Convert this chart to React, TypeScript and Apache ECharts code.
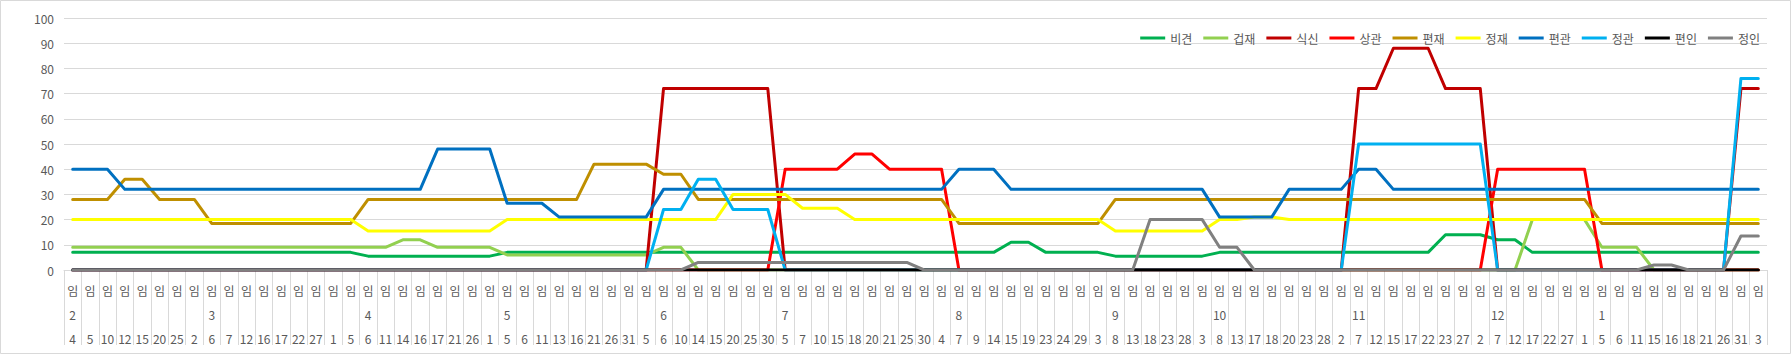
import React, { useEffect, useRef } from 'react';
import * as echarts from 'echarts';

const FONT = '"Noto Sans CJK KR", "Noto Sans", sans-serif';

// x-axis rows
const dayLabels = [
  4, 5, 10, 12, 15, 20, 25, 2, 6, 7,
  12, 16, 17, 22, 27, 1, 5, 6, 11, 14,
  16, 17, 21, 26, 1, 5, 6, 11, 13, 16,
  21, 26, 31, 5, 6, 10, 14, 15, 20, 25,
  30, 5, 7, 10, 15, 18, 20, 21, 25, 30,
  4, 7, 9, 14, 15, 19, 23, 24, 29, 3,
  8, 13, 18, 23, 28, 3, 8, 13, 17, 18,
  20, 23, 28, 2, 7, 12, 15, 17, 22, 23,
  27, 2, 7, 12, 17, 22, 27, 1, 5, 6,
  11, 15, 16, 18, 21, 26, 31, 3,
];
const monthIndex = [0, 8, 17, 25, 34, 41, 51, 60, 66, 74, 82, 88];
const monthNames = ['2', '3', '4', '5', '6', '7', '8', '9', '10', '11', '12', '1'];
const topLabel = '임';

const seriesNames = ['비견', '겁재', '식신', '상관', '편재', '정재', '편관', '정관', '편인', '정인'];
const seriesColors = ['#00B050', '#92D050', '#C00000', '#FF0000', '#BF8F00', '#FFFF00', '#0070C0', '#00B0F0', '#000000', '#808080'];

const bigyeon = [
  7, 7, 7, 7, 7, 7, 7, 7, 7, 7,
  7, 7, 7, 7, 7, 7, 7, 5.5, 5.5, 5.5,
  5.5, 5.5, 5.5, 5.5, 5.5, 7, 7, 7, 7, 7,
  7, 7, 7, 7, 7, 7, 7, 7, 7, 7,
  7, 7, 7, 7, 7, 7, 7, 7, 7, 7,
  7, 7, 7, 7, 11, 11, 7, 7, 7, 7,
  5.5, 5.5, 5.5, 5.5, 5.5, 5.5, 7, 7, 7, 7,
  7, 7, 7, 7, 7, 7, 7, 7, 7, 14,
  14, 14, 12, 12, 7, 7, 7, 7, 7, 7,
  7, 7, 7, 7, 7, 7, 7, 7,
];
const geopjae = [
  9, 9, 9, 9, 9, 9, 9, 9, 9, 9,
  9, 9, 9, 9, 9, 9, 9, 9, 9, 12,
  12, 9, 9, 9, 9, 6, 6, 6, 6, 6,
  6, 6, 6, 6, 9, 9, 0, 0, 0, 0,
  0, 0, 0, 0, 0, 0, 0, 0, 0, 0,
  0, 0, 0, 0, 0, 0, 0, 0, 0, 0,
  0, 0, 0, 0, 0, 0, 0, 0, 0, 0,
  0, 0, 0, 0, 0, 0, 0, 0, 0, 0,
  0, 0, 0, 0, 20, 20, 20, 20, 9, 9,
  9, 0, 0, 0, 0, 0, 0, 0,
];
const siksin = [
  0, 0, 0, 0, 0, 0, 0, 0, 0, 0,
  0, 0, 0, 0, 0, 0, 0, 0, 0, 0,
  0, 0, 0, 0, 0, 0, 0, 0, 0, 0,
  0, 0, 0, 0, 72, 72, 72, 72, 72, 72,
  72, 0, 0, 0, 0, 0, 0, 0, 0, 0,
  0, 0, 0, 0, 0, 0, 0, 0, 0, 0,
  0, 0, 0, 0, 0, 0, 0, 0, 0, 0,
  0, 0, 0, 0, 72, 72, 88, 88, 88, 72,
  72, 72, 0, 0, 0, 0, 0, 0, 0, 0,
  0, 0, 0, 0, 0, 0, 72, 72,
];
const sanggwan = [
  0, 0, 0, 0, 0, 0, 0, 0, 0, 0,
  0, 0, 0, 0, 0, 0, 0, 0, 0, 0,
  0, 0, 0, 0, 0, 0, 0, 0, 0, 0,
  0, 0, 0, 0, 0, 0, 0, 0, 0, 0,
  0, 40, 40, 40, 40, 46, 46, 40, 40, 40,
  40, 0, 0, 0, 0, 0, 0, 0, 0, 0,
  0, 0, 0, 0, 0, 0, 0, 0, 0, 0,
  0, 0, 0, 0, 0, 0, 0, 0, 0, 0,
  0, 0, 40, 40, 40, 40, 40, 40, 0, 0,
  0, 0, 0, 0, 0, 0, 0, 0,
];
const pyeonjae = [
  28, 28, 28, 36, 36, 28, 28, 28, 18.5, 18.5,
  18.5, 18.5, 18.5, 18.5, 18.5, 18.5, 18.5, 28, 28, 28,
  28, 28, 28, 28, 28, 28, 28, 28, 28, 28,
  42, 42, 42, 42, 38, 38, 28, 28, 28, 28,
  28, 28, 28, 28, 28, 28, 28, 28, 28, 28,
  28, 18.5, 18.5, 18.5, 18.5, 18.5, 18.5, 18.5, 18.5, 18.5,
  28, 28, 28, 28, 28, 28, 28, 28, 28, 28,
  28, 28, 28, 28, 28, 28, 28, 28, 28, 28,
  28, 28, 28, 28, 28, 28, 28, 28, 18.5, 18.5,
  18.5, 18.5, 18.5, 18.5, 18.5, 18.5, 18.5, 18.5,
];
const jeongjae = [
  20, 20, 20, 20, 20, 20, 20, 20, 20, 20,
  20, 20, 20, 20, 20, 20, 20, 15.5, 15.5, 15.5,
  15.5, 15.5, 15.5, 15.5, 15.5, 20, 20, 20, 20, 20,
  20, 20, 20, 20, 20, 20, 20, 20, 30, 30,
  30, 30, 24.5, 24.5, 24.5, 20, 20, 20, 20, 20,
  20, 20, 20, 20, 20, 20, 20, 20, 20, 20,
  15.5, 15.5, 15.5, 15.5, 15.5, 15.5, 20, 20, 21, 21,
  20, 20, 20, 20, 20, 20, 20, 20, 20, 20,
  20, 20, 20, 20, 20, 20, 20, 20, 20, 20,
  20, 20, 20, 20, 20, 20, 20, 20,
];
const pyeongwan = [
  40, 40, 40, 32, 32, 32, 32, 32, 32, 32,
  32, 32, 32, 32, 32, 32, 32, 32, 32, 32,
  32, 48, 48, 48, 48, 26.5, 26.5, 26.5, 21, 21,
  21, 21, 21, 21, 32, 32, 32, 32, 32, 32,
  32, 32, 32, 32, 32, 32, 32, 32, 32, 32,
  32, 40, 40, 40, 32, 32, 32, 32, 32, 32,
  32, 32, 32, 32, 32, 32, 21, 21, 21, 21,
  32, 32, 32, 32, 40, 40, 32, 32, 32, 32,
  32, 32, 32, 32, 32, 32, 32, 32, 32, 32,
  32, 32, 32, 32, 32, 32, 32, 32,
];
const jeonggwan = [
  0, 0, 0, 0, 0, 0, 0, 0, 0, 0,
  0, 0, 0, 0, 0, 0, 0, 0, 0, 0,
  0, 0, 0, 0, 0, 0, 0, 0, 0, 0,
  0, 0, 0, 0, 24, 24, 36, 36, 24, 24,
  24, 0, 0, 0, 0, 0, 0, 0, 0, 0,
  0, 0, 0, 0, 0, 0, 0, 0, 0, 0,
  0, 0, 0, 0, 0, 0, 0, 0, 0, 0,
  0, 0, 0, 0, 50, 50, 50, 50, 50, 50,
  50, 50, 0, 0, 0, 0, 0, 0, 0, 0,
  0, 0, 0, 0, 0, 0, 76, 76,
];
const pyeonin = [
  0, 0, 0, 0, 0, 0, 0, 0, 0, 0,
  0, 0, 0, 0, 0, 0, 0, 0, 0, 0,
  0, 0, 0, 0, 0, 0, 0, 0, 0, 0,
  0, 0, 0, 0, 0, 0, 0, 0, 0, 0,
  0, 0, 0, 0, 0, 0, 0, 0, 0, 0,
  0, 0, 0, 0, 0, 0, 0, 0, 0, 0,
  0, 0, 0, 0, 0, 0, 0, 0, 0, 0,
  0, 0, 0, 0, 0, 0, 0, 0, 0, 0,
  0, 0, 0, 0, 0, 0, 0, 0, 0, 0,
  0, 0, 0, 0, 0, 0, 0, 0,
];
const jeongin = [
  0, 0, 0, 0, 0, 0, 0, 0, 0, 0,
  0, 0, 0, 0, 0, 0, 0, 0, 0, 0,
  0, 0, 0, 0, 0, 0, 0, 0, 0, 0,
  0, 0, 0, 0, 0, 0, 3, 3, 3, 3,
  3, 3, 3, 3, 3, 3, 3, 3, 3, 0,
  0, 0, 0, 0, 0, 0, 0, 0, 0, 0,
  0, 0, 20, 20, 20, 20, 9, 9, 0, 0,
  0, 0, 0, 0, 0, 0, 0, 0, 0, 0,
  0, 0, 0, 0, 0, 0, 0, 0, 0, 0,
  0, 2, 2, 0, 0, 0, 13.5, 13.5,
];

const seriesData = [bigyeon, geopjae, siksin, sanggwan, pyeonjae, jeongjae, pyeongwan, jeonggwan, pyeonin, jeongin];

export default function App() {
  const ref = useRef<HTMLDivElement>(null);

  useEffect(() => {
    if (!ref.current) return;
    const chart = echarts.init(ref.current, undefined, { renderer: 'svg' });
    const months: string[] = dayLabels.map(() => '');
    monthIndex.forEach((idx, k) => {
      months[idx] = monthNames[k];
    });
    const cats = dayLabels.map((_, i) => String(i));

    const option: any = {
      animation: false,
      backgroundColor: '#ffffff',
      textStyle: { fontFamily: FONT },
      graphic: [
        {
          type: 'rect',
          silent: true,
          z: -10,
          shape: { x: 0.5, y: 0.5, width: 1790, height: 353 },
          style: { fill: 'none', stroke: '#d9d9d9', lineWidth: 1 },
        },
      ],
      legend: {
        right: 27,
        top: 27,
        itemWidth: 25,
        itemHeight: 3,
        itemGap: 11,
        icon: 'rect',
        data: seriesNames,
        textStyle: { color: '#595959', fontSize: 12, fontFamily: FONT },
      },
      grid: { left: 64, right: 25, top: 18, bottom: 85, containLabel: false },
      xAxis: {
        type: 'category',
        data: cats,
        boundaryGap: true,
        axisLine: { show: true, lineStyle: { color: '#d9d9d9', width: 1 } },
        axisTick: { show: true, interval: 0, length: 75, lineStyle: { color: '#d9d9d9' } },
        axisLabel: {
          interval: 0,
          margin: 8,
          color: '#595959',
          fontSize: 12,
          lineHeight: 24,
          fontFamily: FONT,
          formatter: (_v: string, i: number) => `${topLabel}\n${months[i] || ' '}\n${dayLabels[i]}`,
        },
      },
      yAxis: {
        type: 'value',
        min: 0,
        max: 100,
        interval: 10,
        axisLine: { show: false },
        axisTick: { show: false },
        splitLine: { lineStyle: { color: '#d9d9d9', width: 1 } },
        axisLabel: { color: '#595959', fontSize: 12, margin: 10, fontFamily: FONT },
      },
      series: seriesNames.map((name, k) => ({
        name,
        type: 'line',
        data: seriesData[k],
        symbol: 'none',
        color: seriesColors[k],
        lineStyle: { width: 3, color: seriesColors[k], cap: 'round', join: 'round' },
        z: 2 + k,
      })),
    };
    chart.setOption(option);
    return () => chart.dispose();
  }, []);

  return (
    <div
      ref={ref}
      style={{ position: 'absolute', left: 0, top: 0, width: 1792, height: 355, background: '#fff' }}
    />
  );
}
